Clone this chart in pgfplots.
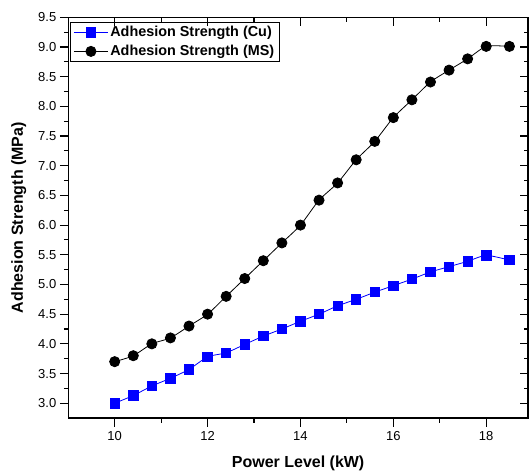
\documentclass[border=0pt]{standalone}
\usepackage{pgfplots}
\pgfplotsset{compat=1.18}
\usepackage{fontspec}
\setmainfont{Liberation Sans}
\begin{document}
\begin{tikzpicture}
\pgfplotsset{
  common/.style={
    width=460bp, height=401bp, scale only axis,
    xmin=9, xmax=18.9, ymin=2.75, ymax=9.5,
    xtick={10,12,14,16,18}, ytick={3,3.5,...,9.5},
    minor x tick num=1, minor y tick num=1,
    major tick length=8.5bp, minor tick length=4.5bp,
    axis line style={line width=1.3bp},
    every tick/.style={line width=1.1bp, black},
  }
}
\begin{axis}[common,
  tick align=outside,
  xtick pos=left, ytick pos=left,
  /pgf/number format/assume math mode=true,
  yticklabel style={/pgf/number format/.cd, fixed, fixed zerofill, precision=1},
  ticklabel style={font=\fontsize{13bp}{15bp}\selectfont},
  xticklabel style={yshift=-1bp},
  xlabel={\bfseries Power Level (kW)},
  ylabel={\bfseries Adhesion Strength (MPa)},
  label style={font=\fontsize{16bp}{18bp}\selectfont},
  xlabel style={yshift=-9bp},
  ylabel style={yshift=5bp},
  legend cell align=left,
  legend style={at={(rel axis cs:0.004,0.988)}, anchor=north west,
    draw=black, line width=0.9bp,
    font=\bfseries\fontsize{14.4bp}{16bp}\selectfont,
    inner xsep=3bp, inner ysep=2bp, row sep=3bp,
    /tikz/every even column/.append style={column sep=2bp}},
  legend image code/.code={\draw[mark repeat=2,mark phase=2,#1] plot coordinates {(0bp,0bp) (17bp,0bp) (34bp,0bp)};},
]
\addplot[blue, line width=0.8bp, smooth, tension=0.4, mark=square*, mark size=4.7bp, mark options={solid, fill=blue, draw=blue}]
coordinates {
(10.0,3.00) (10.4,3.13) (10.8,3.29) (11.2,3.42) (11.6,3.57) (12.0,3.78)
(12.4,3.85) (12.8,3.99) (13.2,4.13) (13.6,4.25) (14.0,4.38) (14.4,4.50)
(14.8,4.64) (15.2,4.75) (15.6,4.87) (16.0,4.98) (16.4,5.09) (16.8,5.21)
(17.2,5.30) (17.6,5.39) (18.0,5.49) (18.5,5.41)
};
\addlegendentry{Adhesion Strength (Cu)}
\addplot[black, line width=0.8bp, smooth, tension=0.4, mark=*, mark size=5.1bp, mark options={solid, fill=black}]
coordinates {
(10.0,3.7) (10.4,3.8) (10.8,4.0) (11.2,4.1) (11.6,4.3) (12.0,4.5)
(12.4,4.8) (12.8,5.1) (13.2,5.4) (13.6,5.7) (14.0,6.0) (14.4,6.42)
(14.8,6.71) (15.2,7.1) (15.6,7.41) (16.0,7.81) (16.4,8.11) (16.8,8.41)
(17.2,8.61) (17.6,8.8) (18.0,9.01) (18.5,9.01)
};
\addlegendentry{Adhesion Strength (MS)}
\coordinate (BL) at (rel axis cs:0,0);
\coordinate (TR) at (rel axis cs:1,1);
\end{axis}
\begin{axis}[common,
  tick align=inside,
  xtick pos=right, ytick pos=right,
  xticklabels={}, yticklabels={},
]
\end{axis}
\pgfresetboundingbox
\path[use as bounding box] ([shift={(-68.3bp,-56.7bp)}]BL) rectangle ([shift={(1bp,17.3bp)}]TR);
\end{tikzpicture}
\end{document}
